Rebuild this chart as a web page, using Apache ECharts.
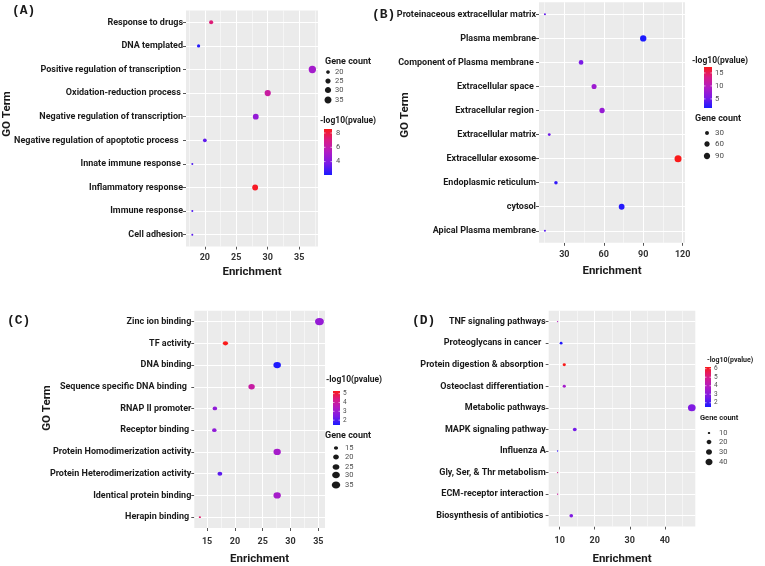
<!DOCTYPE html>
<html><head><meta charset="utf-8">
<script src="https://cdn.jsdelivr.net/npm/echarts@6/dist/echarts.min.js"></script>
<style>html,body{margin:0;padding:0;background:#fff}#c{width:765px;height:566px}</style>
</head><body><div id="c"></div>
<script>
// ---------- Panel A : GO biological process ----------
const catsA = ['Response to drugs','DNA templated','Positive regulation of transcription ','Oxidation-reduction process ','Negative regulation of transcription','Negative regulation of apoptotic process  ','Innate immune response ','Inflammatory response','Immune response','Cell adhesion'];
const enrichA = [21.0, 19.0, 37.1, 30.0, 28.1, 20.0, 18.0, 28.0, 18.0, 18.0];
const countA  = [21, 19, 37, 30, 28, 20, 18, 28, 18, 18];
const pvalA   = [7.2, 2.3, 5.0, 6.3, 4.5, 3.3, 3.0, 8.4, 3.0, 3.2];
const xTicksA = [20, 25, 30, 35];
const xMinorA = [17.5, 22.5, 27.5, 32.5, 37.5];
const sizeBreaksA = [20, 25, 30, 35];
const colorBreaksA = [4, 6, 8];

// ---------- Panel B : GO cellular component ----------
const catsB = ['Proteinaceous extracellular matrix','Plasma membrane','Component of Plasma membrane ','Extracellular space ','Extracellular region ','Extracellular matrix','Extracellular exosome','Endoplasmic reticulum','cytosol','Apical Plasma membrane'];
const enrichB = [15.2, 90.0, 42.7, 52.6, 58.7, 18.5, 116.5, 23.6, 73.6, 15.2];
const countB  = [15, 90, 43, 53, 59, 18, 116, 24, 74, 15];
const pvalB   = [4.5, 1.6, 5.5, 8.0, 7.5, 5.0, 17.3, 2.5, 2.0, 4.0];
const xTicksB = [30, 60, 90, 120];
const xMinorB = [15, 45, 75, 105];
const sizeBreaksB = [30, 60, 90];
const colorBreaksB = [5, 10, 15];

// ---------- Panel C : GO molecular function ----------
const catsC = ['Zinc ion binding','TF activity','DNA binding','Sequence specific DNA binding  ','RNAP II promoter','Receptor binding ','Protein Homodimerization activity','Protein Heterodimerization activity','Identical protein binding','Herapin binding '];
const enrichC = [35.2, 18.3, 27.6, 23.0, 16.4, 16.3, 27.6, 17.3, 27.6, 13.7];
const countC  = [37, 18, 29, 23, 16, 16, 28, 17, 28, 13];
const pvalC   = [2.9, 5.3, 1.5, 3.9, 2.8, 2.8, 3.2, 2.1, 3.2, 4.6];
const xTicksC = [15, 20, 25, 30, 35];
const xMinorC = [17.5, 22.5, 27.5, 32.5];
const sizeBreaksC = [15, 20, 25, 30, 35];
const colorBreaksC = [2, 3, 4, 5];

// ---------- Panel D : KEGG pathways ----------
const catsD = ['TNF signaling pathways','Proteoglycans in cancer  ','Protein digestion & absorption ','Osteoclast differentiation ','Metabolic pathways','MAPK signaling pathway','Influenza A','Gly, Ser, & Thr metabolism','ECM-receptor interaction ','Biosynthesis of antibiotics '];
const enrichD = [9.4, 10.4, 11.3, 11.3, 47.7, 14.3, 9.4, 9.4, 9.4, 13.3];
const countD  = [9, 11, 12, 12, 48, 15, 9, 9, 9, 14];
const pvalD   = [4.0, 1.6, 6.2, 3.6, 2.8, 2.6, 1.8, 5.0, 4.6, 2.8];
const xTicksD = [10, 20, 30, 40];
const xMinorD = [15, 25, 35, 45];
const sizeBreaksD = [10, 20, 30, 40];
const colorBreaksD = [2, 3, 4, 5, 6];

// ---------- layout / style ----------
const FONT = 'Roboto, "Noto Sans", sans-serif';
const COLORS = ['#1a1aff', '#7a1ae6', '#b01cc4', '#d81c88', '#fa1a1a'];

const layouts = [
  { grid:{left:186, top:10.5, width:132, height:236}, xMin:17, xMax:38, lblMargin:6.5, nameGap:19.5,
    cLo:18, cHi:37, dMin:2, dMax:7.3, asp:1, pMin:2.13, pMax:8.56,
    tag:{t:'(A)', x:12, y:12}, goTerm:{x:7, y:114},
    cb:{tx:320, ty:121, ts:8.5, x:324, y:129, w:8, h:46, lx:336, ls:7.5},
    gc:{tx:325, ty:62, ts:9, ys:[72,81,90,100], dx:328, lx:335, ls:7.5} },
  { grid:{left:539, top:2.3, width:146, height:240.5}, xMin:10.7, xMax:121.8, lblMargin:7.5, nameGap:22.5,
    cLo:15, cHi:116, dMin:2, dMax:7, asp:1, pMin:1.5, pMax:17.3,
    tag:{t:'(B)', x:372, y:16}, goTerm:{x:405, y:115},
    cb:{tx:692, ty:61, ts:8.5, x:704, y:67, w:8, h:41, lx:715, ls:7.5},
    gc:{tx:695, ty:119, ts:9, ys:[133,144,156], dx:707, lx:715, ls:8} },
  { grid:{left:194.3, top:310.7, width:130.7, height:219.6}, xMin:12.7, xMax:36.2, lblMargin:9, nameGap:25,
    cLo:13, cHi:37, dMin:1.8, dMax:7.3, asp:1.2, pMin:1.45, pMax:5.3,
    tag:{t:'(C)', x:7, y:322}, goTerm:{x:47, y:408},
    cb:{tx:326, ty:380, ts:8.5, x:333, y:391, w:7, h:34, lx:343, ls:6.5},
    gc:{tx:325, ty:436, ts:9, ys:[448,457,467,475,485], dx:336, lx:345, ls:7.5} },
  { grid:{left:548.7, top:310.8, width:146.6, height:217.3}, xMin:6.86, xMax:48.7, lblMargin:9.5, nameGap:26.5,
    cLo:9, cHi:48, dMin:1.3, dMax:7, asp:1.1, pMin:1.5, pMax:6.2,
    tag:{t:'(D)', x:412, y:322}, goTerm:null,
    cb:{tx:707, ty:360, ts:7, x:705, y:367, w:6, h:40, lx:714, ls:6.5},
    gc:{tx:700, ty:418, ts:7.5, ys:[433,442,452,462], dx:709, lx:719, ls:7.5} }
];

const panels = [
  {cats:catsA, x:enrichA, n:countA, p:pvalA, ticks:xTicksA, minor:xMinorA, sb:sizeBreaksA, cbk:colorBreaksA},
  {cats:catsB, x:enrichB, n:countB, p:pvalB, ticks:xTicksB, minor:xMinorB, sb:sizeBreaksB, cbk:colorBreaksB},
  {cats:catsC, x:enrichC, n:countC, p:pvalC, ticks:xTicksC, minor:xMinorC, sb:sizeBreaksC, cbk:colorBreaksC},
  {cats:catsD, x:enrichD, n:countD, p:pvalD, ticks:xTicksD, minor:xMinorD, sb:sizeBreaksD, cbk:colorBreaksD}
];

function diam(L, v) {
  const t = Math.max(0, Math.min(1, (v - L.cLo) / (L.cHi - L.cLo)));
  return L.dMin + (L.dMax - L.dMin) * Math.sqrt(t);
}

const grids = [], xAxes = [], yAxes = [], series = [], visualMaps = [], graphics = [];

panels.forEach((P, i) => {
  const L = layouts[i];
  grids.push(Object.assign({show:true, backgroundColor:'#ebebeb', borderWidth:0}, L.grid));
  xAxes.push({
    gridIndex:i, type:'value', min:L.xMin, max:L.xMax,
    splitLine:{show:false}, axisLine:{show:false},
    axisTick:{show:true, length:3, customValues:P.ticks, lineStyle:{color:'#555', width:1}},
    axisLabel:{customValues:P.ticks, margin:L.lblMargin, fontSize:9, fontWeight:'bold', color:'#333', fontFamily:FONT},
    name:'Enrichment', nameLocation:'middle', nameGap:L.nameGap,
    nameTextStyle:{fontSize:11.5, fontWeight:'bold', color:'#1a1a1a', fontFamily:FONT}
  });
  yAxes.push({
    gridIndex:i, type:'category', data:P.cats, inverse:true, boundaryGap:true,
    splitLine:{show:false}, axisLine:{show:false},
    axisTick:{show:true, alignWithLabel:true, interval:0, length:3, lineStyle:{color:'#555', width:1}},
    axisLabel:{interval:0, margin:3, fontSize:9, fontWeight:'bold', color:'#1a1a1a', fontFamily:FONT}
  });
  // background grid lines (ggplot-like) drawn by the library through the axes
  const ml = [];
  P.ticks.forEach(v => ml.push({xAxis:v, lineStyle:{width:1}}));
  P.minor.forEach(v => ml.push({xAxis:v, lineStyle:{width:0.5}}));
  P.cats.forEach(c => ml.push({yAxis:c, lineStyle:{width:1}}));
  series.push({
    type:'scatter', xAxisIndex:i, yAxisIndex:i, data:[], z:1, silent:true,
    markLine:{silent:true, symbol:['none','none'], label:{show:false}, animation:false,
      lineStyle:{color:'#ffffff', type:'solid', width:1}, emphasis:{disabled:true}, data:ml}
  });
  const sIdx = series.length;
  series.push({
    type:'scatter', xAxisIndex:i, yAxisIndex:i, z:5,
    data:P.cats.map((c, k) => [P.x[k], c, P.n[k], P.p[k]]),
    encode:{x:0, y:1},
    symbol:'circle',
    symbolSize:(val) => { const d = diam(L, val[2]); return [d * L.asp, d]; },
    itemStyle:{opacity:1}
  });
  visualMaps.push({type:'continuous', show:false, seriesIndex:sIdx, dimension:3,
    min:L.pMin, max:L.pMax, inRange:{color:COLORS}});

  // panel tag
  graphics.push({type:'text', left:L.tag.x, top:L.tag.y - 8, style:{text:L.tag.t, font:'bold 13px "Liberation Mono", "DejaVu Sans Mono", monospace', fill:'#1a1a1a'}});
  if (L.goTerm) {
    graphics.push({type:'text', x:L.goTerm.x, y:L.goTerm.y, rotation:Math.PI/2,
      style:{text:'GO Term', font:'bold 11.5px ' + FONT, fill:'#1a1a1a', align:'center', verticalAlign:'middle'}});
  }
  // colour bar legend
  const cb = L.cb;
  graphics.push({type:'text', x:cb.tx, y:cb.ty, style:{text:'-log10(pvalue)', font:'bold ' + cb.ts + 'px ' + FONT, fill:'#1a1a1a', verticalAlign:'middle'}});
  graphics.push({type:'rect', shape:{x:cb.x, y:cb.y, width:cb.w, height:cb.h},
    style:{fill:new echarts.graphic.LinearGradient(0, 1, 0, 0, COLORS.map((c, k) => ({offset:k / (COLORS.length - 1), color:c})))}});
  P.cbk.forEach(v => {
    const yy = cb.y + cb.h - (v - L.pMin) / (L.pMax - L.pMin) * cb.h;
    graphics.push({type:'line', shape:{x1:cb.x, y1:yy, x2:cb.x + 1.5, y2:yy}, style:{stroke:'#fff', lineWidth:0.6}});
    graphics.push({type:'line', shape:{x1:cb.x + cb.w - 1.5, y1:yy, x2:cb.x + cb.w, y2:yy}, style:{stroke:'#fff', lineWidth:0.6}});
    graphics.push({type:'text', x:cb.lx, y:yy, style:{text:String(v), font:cb.ls + 'px ' + FONT, fill:'#4d4d4d', verticalAlign:'middle'}});
  });
  // size legend
  const gc = L.gc;
  graphics.push({type:'text', x:gc.tx, y:gc.ty, style:{text:'Gene count', font:'bold ' + gc.ts + 'px ' + FONT, fill:'#1a1a1a', verticalAlign:'middle'}});
  P.sb.forEach((v, k) => {
    const d = diam(L, v);
    graphics.push({type:'ellipse', shape:{cx:gc.dx, cy:gc.ys[k], rx:d * L.asp / 2, ry:d / 2}, style:{fill:'#1a1a1a'}});
    graphics.push({type:'text', x:gc.lx, y:gc.ys[k], style:{text:String(v), font:gc.ls + 'px ' + FONT, fill:'#4d4d4d', verticalAlign:'middle'}});
  });
});

const chart = echarts.init(document.getElementById('c'), null, {renderer:'canvas'});
chart.setOption({
  animation:false,
  backgroundColor:'#ffffff',
  textStyle:{fontFamily:FONT},
  grid:grids, xAxis:xAxes, yAxis:yAxes, series:series, visualMap:visualMaps,
  graphic:{elements:graphics}
});
</script>
</body></html>
